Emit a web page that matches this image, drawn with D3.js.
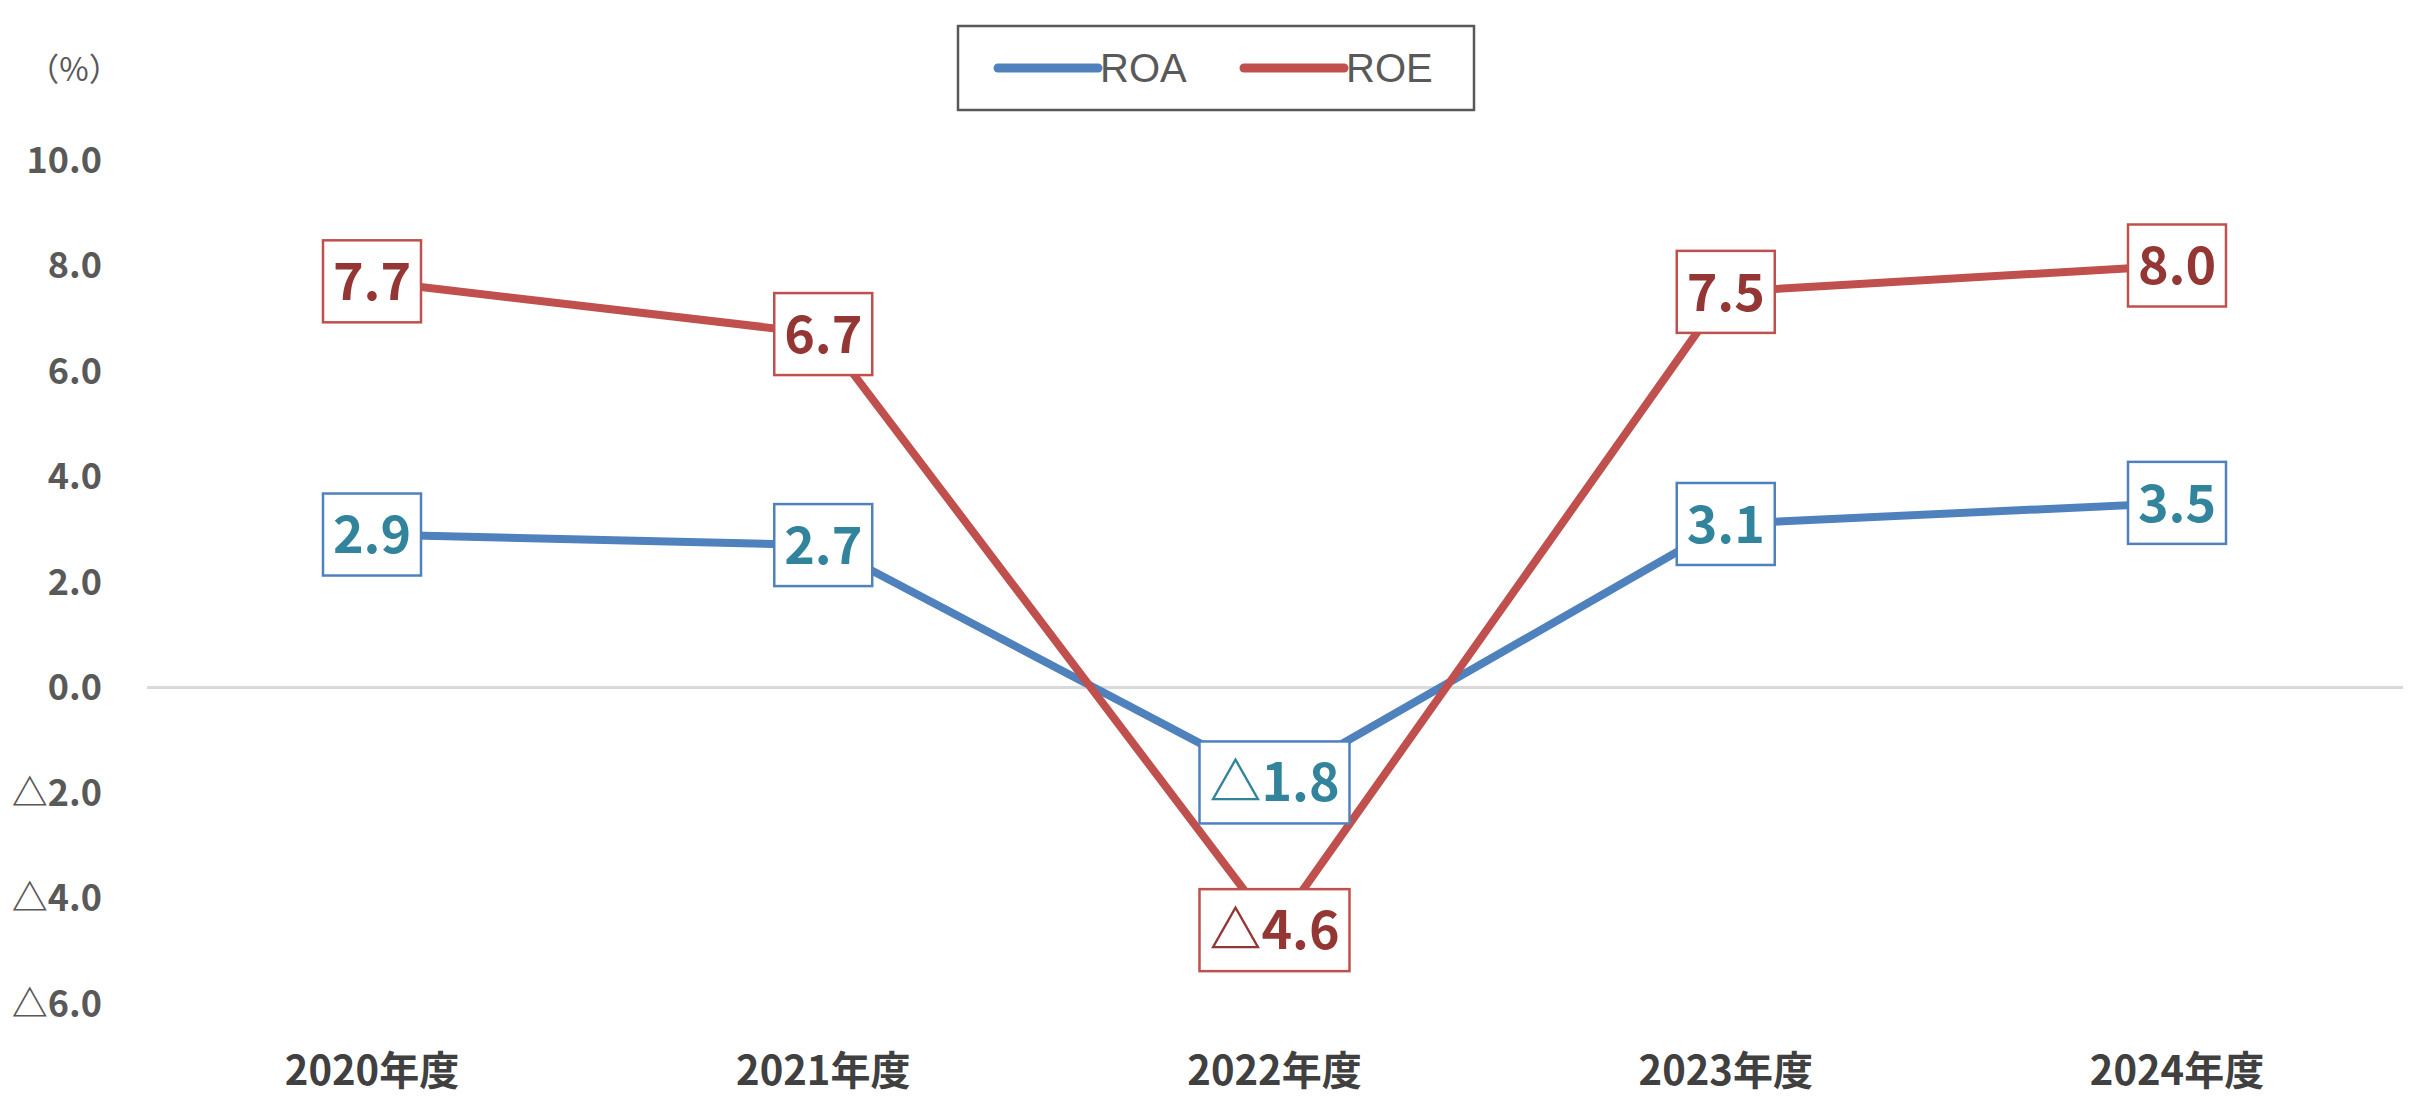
<!DOCTYPE html>
<html><head><meta charset="utf-8">
<script src="https://cdn.jsdelivr.net/npm/d3@7"></script>
<style>body{margin:0;background:#fff}text{font-family:"Liberation Sans Narrow","Noto Sans CJK JP",sans-serif}</style>
</head><body><div id="chart"></div>
<script>
const years = ["2020年度", "2021年度", "2022年度", "2023年度", "2024年度"];
const roa = [2.9, 2.7, -1.8, 3.1, 3.5];
const roe = [7.7, 6.7, -4.6, 7.5, 8.0];
const yTicks = [10, 8, 6, 4, 2, 0, -2, -4, -6];

const W = 2421, H = 1114;
const fmt = v => (v < 0 ? "△" : "") + Math.abs(v).toFixed(1);
var svg = d3.select("#chart").append("svg").attr("width", W).attr("height", H);

var x = d3.scalePoint().domain(years).range([372, 2177]);
var y = d3.scaleLinear().domain([-6, 10]).range([1004, 160]);

// zero line
svg.append("line").attr("x1", 147).attr("x2", 2403).attr("y1", y(0)).attr("y2", y(0))
    .attr("stroke", "#d9d9d9").attr("stroke-width", 3);

// y labels
svg.selectAll(".yl").data(yTicks).enter().append("text")
    .attr("x", 102).attr("y", d => y(d)).attr("dy", "0.35em").attr("text-anchor", "end")
    .attr("font-size", 36).attr("font-weight", "bold").attr("fill", "#595959").text(fmt);
svg.append("text").attr("x", 74).attr("y", 70).attr("text-anchor", "middle").attr("dy", "0.35em")
    .attr("font-size", 32).attr("fill", "#595959").text("（%）");

// x labels
svg.selectAll(".xl").data(years).enter().append("text")
    .attr("x", d => x(d)).attr("y", 1071).attr("dy", "0.35em").attr("text-anchor", "middle")
    .attr("font-size", 40).attr("font-weight", "bold").attr("fill", "#404040").text(d => d);

const series = [
    { name: "ROA", vals: roa, line: "#4f81bd", text: "#31849b" },
    { name: "ROE", vals: roe, line: "#c0504d", text: "#943634" }
];
var line = d3.line().x((d, i) => x(years[i])).y(d => y(d));
series.forEach(s => {
    svg.append("path").attr("d", line(s.vals)).attr("fill", "none")
        .attr("stroke", s.line).attr("stroke-width", 8).attr("stroke-linejoin", "round");
});
series.forEach(s => {
    var g = svg.append("g").selectAll("g").data(s.vals).enter().append("g")
        .attr("transform", (d, i) => "translate(" + x(years[i]) + "," + y(d) + ")");
    g.append("rect")
        .attr("x", d => d < 0 ? -75 : -49).attr("width", d => d < 0 ? 150 : 98)
        .attr("y", -41).attr("height", 82)
        .attr("fill", "#fff").attr("stroke", s.line).attr("stroke-width", 2.5);
    g.append("text").attr("text-anchor", "middle").attr("dy", "0.36em")
        .attr("font-size", 52).attr("font-weight", "bold").attr("fill", s.text).text(fmt);
});

// legend
svg.append("rect").attr("x", 958).attr("y", 26).attr("width", 516).attr("height", 84)
    .attr("fill", "#fff").attr("stroke", "#595959").attr("stroke-width", 2.5);
var lg = svg.selectAll(".lg").data(series).enter().append("g")
    .attr("transform", (d, i) => "translate(" + (998 + i * 246) + ",68)");
lg.append("line").attr("x1", 0).attr("x2", 100).attr("stroke", d => d.line)
    .attr("stroke-width", 9).attr("stroke-linecap", "round");
lg.append("text").attr("x", 102).attr("dy", "0.35em").attr("font-size", 40)
    .attr("fill", "#595959").style("font-family", "'Liberation Sans',sans-serif").text(d => d.name);
</script></body></html>
